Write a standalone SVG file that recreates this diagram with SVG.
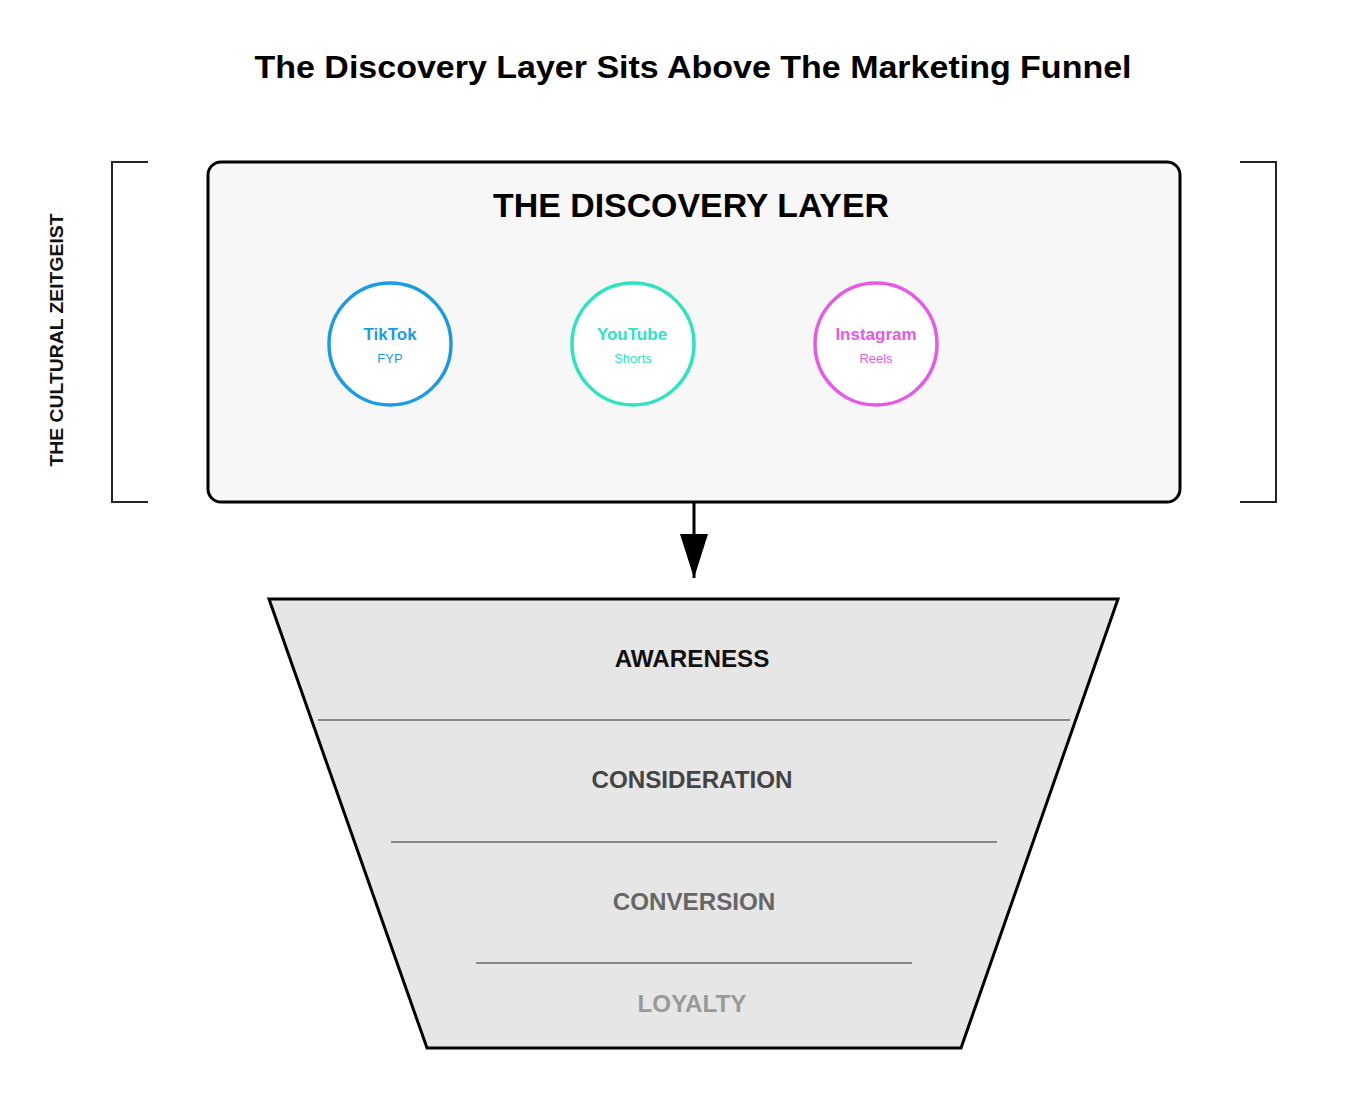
<svg xmlns="http://www.w3.org/2000/svg" width="1345" height="1097" viewBox="0 0 1345 1097">
<style>
text{font-family:"Liberation Sans",Arial,sans-serif;font-weight:bold;text-anchor:middle}
.br{fill:none;stroke:#222;stroke-width:2}
.ring{fill:#fff;stroke-width:3.5}
.div{stroke:#888;stroke-width:2}
.stage{font-size:24.2px}
.sub{font-size:13px;font-weight:normal}
.main{font-size:17px}
</style>
<rect width="1345" height="1097" fill="#fff"/>
<text x="693" y="78" font-size="32" fill="#000" textLength="877" lengthAdjust="spacingAndGlyphs">The Discovery Layer Sits Above The Marketing Funnel</text>

<g id="zeitgeist">
<path class="br" d="M148,162 H112 V502 H148"/>
<path class="br" d="M1240,162 H1276 V502 H1240"/>
<text transform="translate(63,340) rotate(-90)" font-size="18.5" fill="#111" textLength="253" lengthAdjust="spacingAndGlyphs">THE CULTURAL ZEITGEIST</text>
</g>

<g id="discovery-layer">
<rect x="208" y="162" width="972" height="340" rx="13" fill="#f7f7f7" stroke="#000" stroke-width="3"/>
<text x="691" y="217" font-size="32.5" fill="#000" textLength="396" lengthAdjust="spacingAndGlyphs">THE DISCOVERY LAYER</text>
</g>

<g id="tiktok">
<circle class="ring" cx="390" cy="344" r="61" stroke="#1a9be8"/>
<text class="main" x="390" y="340" fill="#1a9be8">TikTok</text>
<text class="sub" x="390" y="363" fill="#1a9be8">FYP</text>
</g>
<g id="youtube">
<circle class="ring" cx="633" cy="344" r="61" stroke="#2ee3c2"/>
<text class="main" x="632" y="340" fill="#2ee3c2">YouTube</text>
<text class="sub" x="633" y="363" fill="#2ee3c2">Shorts</text>
</g>
<g id="instagram">
<circle class="ring" cx="876" cy="344" r="61" stroke="#e659e6"/>
<text class="main" x="876" y="340" fill="#e659e6">Instagram</text>
<text class="sub" x="876" y="363" fill="#e659e6">Reels</text>
</g>

<g id="connectors">
<line x1="694" y1="502" x2="694" y2="578" stroke="#000" stroke-width="3"/>
<path d="M680,534 L708,534 L694,578 Z" fill="#000"/>
</g>

<g id="funnel">
<path d="M269,599 L1118,599 L961,1048 L427,1048 Z" fill="#e6e6e6" stroke="#000" stroke-width="3"/>
<line class="div" x1="318" y1="720" x2="1070" y2="720"/>
<line class="div" x1="391" y1="842" x2="997" y2="842"/>
<line class="div" x1="476" y1="963" x2="912" y2="963"/>
<text class="stage" x="692" y="667" fill="#111">AWARENESS</text>
<text class="stage" x="692" y="788" fill="#444">CONSIDERATION</text>
<text class="stage" x="694" y="910" fill="#666">CONVERSION</text>
<text class="stage" x="692" y="1012" fill="#999">LOYALTY</text>
</g>
</svg>
